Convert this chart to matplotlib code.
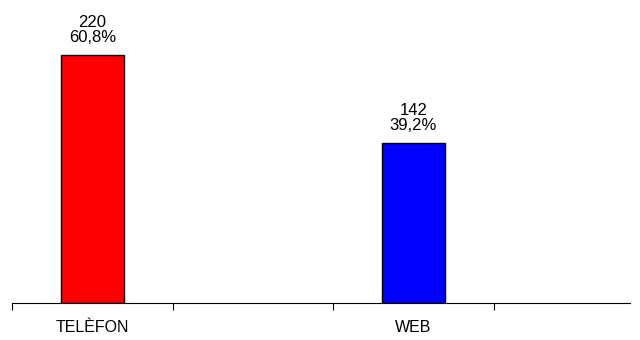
import matplotlib
matplotlib.use("Agg")
import matplotlib.pyplot as plt

categories = ['TELÈFON', 'WEB']
counts = [220, 142]
percents = ['60,8%', '39,2%']
colors = ['#ff0000', '#0000ff']
slots = [0, 2]

plt.rcParams['font.family'] = ['Liberation Sans', 'DejaVu Sans']

fig = plt.figure(figsize=(6.4, 3.4), dpi=100)
ax = fig.add_axes([12 / 640, 37 / 340, 618 / 640, 303 / 340])

ax.bar(slots, counts, width=0.39, color=colors, edgecolor='black', linewidth=1)
for x, c, p in zip(slots, counts, percents):
    ax.annotate('%d\n%s' % (c, p), (x, c), xytext=(0, 7), textcoords='offset points',
                ha='center', va='bottom', fontsize=12, linespacing=1.0)

ax.set_xlim(-0.5, 618 / 160.5 - 0.5)
ax.set_ylim(0, 269)
for s in ['top', 'left', 'right']:
    ax.spines[s].set_visible(False)
ax.spines['bottom'].set_linewidth(0.8)
ax.set_yticks([])
ax.set_xticks([-0.5, 0.5, 1.5, 2.5])
ax.set_xticklabels([])
ax.tick_params(axis='x', which='major', length=5, width=0.8, direction='out')
ax.set_xticks(slots, minor=True)
ax.set_xticklabels(categories, minor=True)
ax.tick_params(axis='x', which='minor', length=0, pad=12, labelsize=11.5)

fig.savefig('out.png', dpi=100)
